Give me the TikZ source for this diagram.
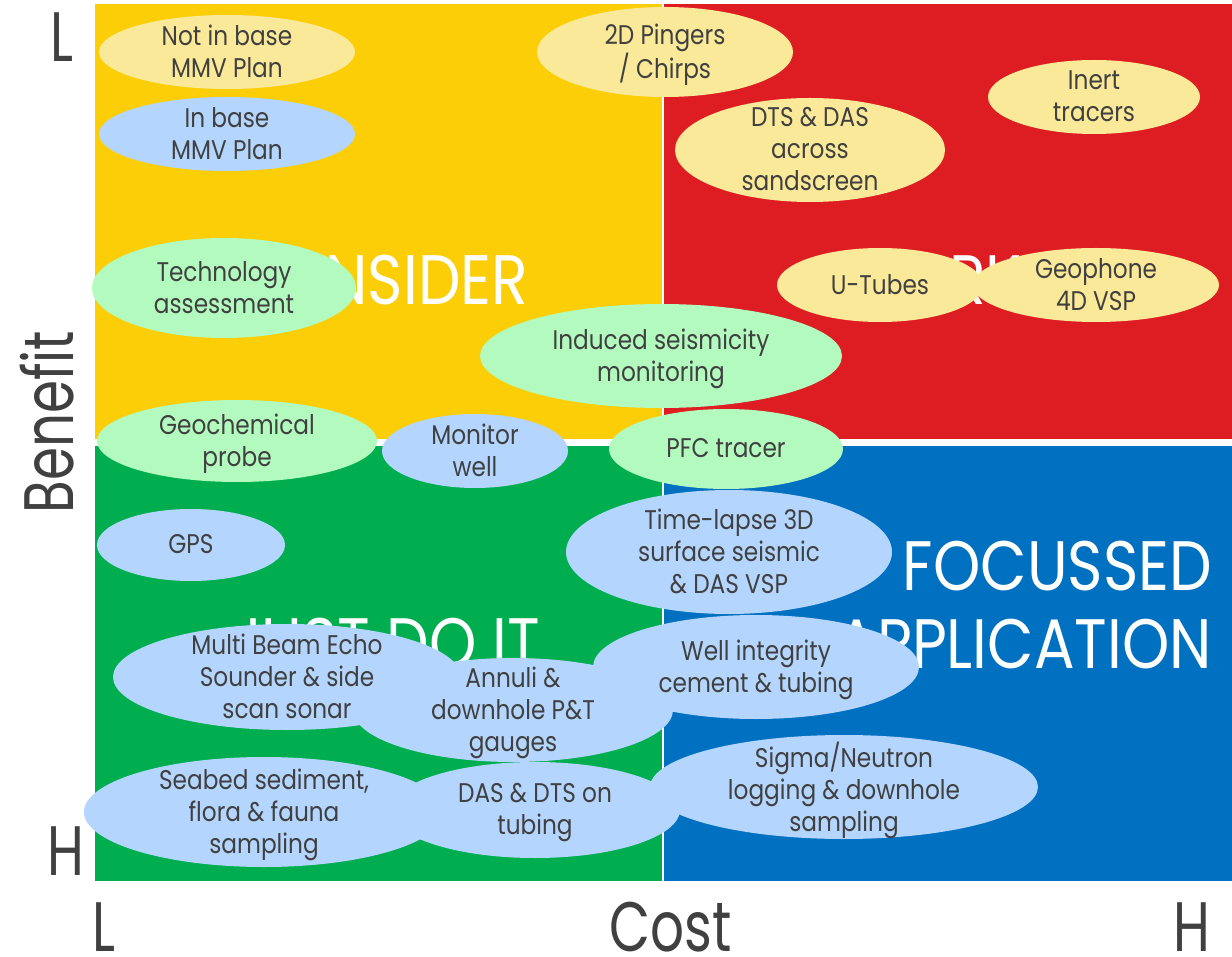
\documentclass[tikz,border=0pt]{standalone}
\usepackage{fontspec}
\setmainfont{Poppins}[FakeStretch=0.86]
\newfontfamily\axisfont{Poppins}[FakeStretch=0.76]
\usetikzlibrary{shapes.geometric}
\definecolor{qyellow}{HTML}{FBCE07}
\definecolor{qred}{HTML}{DD1D21}
\definecolor{qgreen}{HTML}{00AE4F}
\definecolor{qblue}{HTML}{0070C1}
\definecolor{lyellow}{HTML}{FBE99A}
\definecolor{lblue}{HTML}{B4D5FD}
\definecolor{lgreen}{HTML}{B3FABF}
\definecolor{txt}{HTML}{404040}
\newcommand\bubble[7]{%
  \fill[#6] (#2,#3) ellipse [x radius=#4, y radius=#5];
  \node[btext] (#1) at (#2,#3) {\vphantom{Ag}#7\vphantom{Ag}};}
\begin{document}
\begin{tikzpicture}[x=1pt,y=-1pt,
  btext/.style={inner sep=0pt, align=center, text=txt, yshift=-3pt, font=\fontsize{27}{32}\selectfont},
  qlabel/.style={inner sep=0pt, text=white, font=\fontsize{70}{78}\selectfont, anchor=base},
  axlabel/.style={inner sep=0pt, text=txt, font=\axisfont\fontsize{70}{78}\selectfont, anchor=base}]
\useasboundingbox (0,0) rectangle (1232,957);
\fill[white] (0,0) rectangle (1232,957);
% quadrants
\fill[qyellow] (95,4) rectangle (662,439);
\fill[qred] (664,4) rectangle (1232,439);
\fill[qgreen] (95,446) rectangle (662,881);
\fill[qblue] (664,446) rectangle (1232,881);
% quadrant labels
\node[qlabel] (consider) at (380,305) {CONSIDER};
\node[qlabel] (park) at (948,305) {PARK};
\node[qlabel] (justdoit) at (385,667) {JUST DO IT};
\node[qlabel, anchor=base east] (focussed) at (1212,590) {FOCUSSED};
\node[qlabel, anchor=base east] (application) at (1212,668) {APPLICATION};
% axis labels
\node[axlabel] (bl) at (62,62) {L};
\node[axlabel] (bh) at (66,875) {H};
\node[axlabel, rotate=90] (benefit) at (73,422) {Benefit};
\node[axlabel] (cl) at (104,951) {L};
\node[axlabel] (cost) at (671,951) {Cost};
\node[axlabel] (ch) at (1192,951) {H};
% bubbles
\bubble{notbase}{227}{52}{128}{37}{lyellow}{Not in base\\MMV Plan}
\bubble{inbase}{227}{134}{128}{37}{lblue}{In base\\MMV Plan}
\bubble{pingers}{665}{52}{128}{45}{lyellow}{2D Pingers\\/ Chirps}
\bubble{dtsdas}{810}{150}{135}{52}{lyellow}{DTS \& DAS\\across\\sandscreen}
\bubble{inert}{1094}{97}{106}{37}{lyellow}{Inert\\tracers}
\bubble{utubes}{880}{285}{103}{37}{lyellow}{U-Tubes}
\bubble{geophone}{1096}{285}{123}{37}{lyellow}{Geophone\\4D VSP}
\bubble{tech}{224}{288}{132}{50}{lgreen}{Technology\\assessment}
\bubble{induced}{661}{356}{181}{52}{lgreen}{Induced seismicity\\monitoring}
\bubble{geochem}{237}{441}{140}{41}{lgreen}{Geochemical\\probe}
\bubble{monitor}{475}{451}{93}{37}{lblue}{Monitor\\well}
\bubble{pfc}{726}{449}{117}{40}{lgreen}{PFC tracer}
\bubble{gps}{191}{545}{94}{36}{lblue}{GPS}
\bubble{timelapse}{729}{552}{163}{62}{lblue}{Time-lapse 3D\\surface seismic\\\& DAS VSP}
\bubble{multibeam}{287}{677}{174}{53}{lblue}{Multi Beam Echo\\Sounder \& side\\scan sonar}
\bubble{annuli}{513}{710}{160}{52}{lblue}{Annuli \&\\downhole P\&T\\gauges}
\bubble{well}{756}{667}{163}{52}{lblue}{Well integrity\\cement \& tubing}
\bubble{seabed}{264}{812}{180}{55}{lblue}{Seabed sediment,\\flora \& fauna\\sampling}
\bubble{dasdts}{535}{810}{145}{48}{lblue}{DAS \& DTS on\\tubing}
\bubble{sigma}{844}{787}{194}{52}{lblue}{Sigma/Neutron\\logging \& downhole\\sampling}
\end{tikzpicture}
\end{document}
